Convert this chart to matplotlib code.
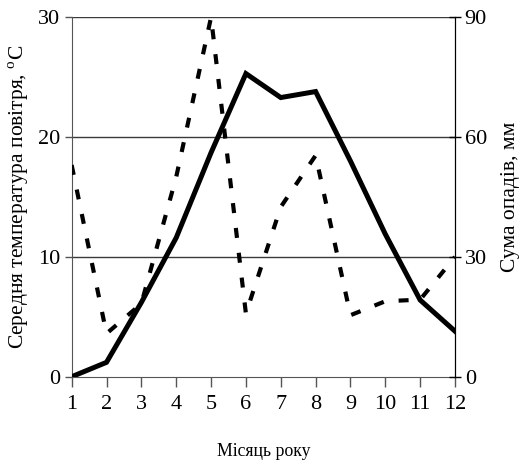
import matplotlib
matplotlib.use("Agg")
import matplotlib.pyplot as plt

plt.rcParams['font.family'] = ['Liberation Serif', 'DejaVu Serif']
plt.rcParams['mathtext.fontset'] = 'custom'
plt.rcParams['mathtext.rm'] = 'Liberation Serif'

months = [1, 2, 3, 4, 5, 6, 7, 8, 9, 10, 11, 12]
temperature = [0.0, 1.2, 6.2, 11.6, 18.7, 25.3, 23.3, 23.8, 18.0, 11.9, 6.4, 3.8]
precipitation = [53.0, 10.8, 18.3, 50.0, 90.0, 15.8, 42.5, 55.4, 15.4, 18.9, 19.3, 30.0]

fig = plt.figure(figsize=(5.23, 4.62), dpi=100)
ax = fig.add_axes([0.137, 0.1846, 0.733, 0.778])
ax2 = ax.twinx()

for yv in [10, 20, 30]:
    ax.axhline(yv, color='#3a3a3a', lw=1.0, zorder=0)

ax.plot(months, temperature, color='black', lw=3.6, solid_joinstyle='miter', zorder=3)
ax2.plot(months, precipitation, color='black', lw=3.0, dashes=(2.4, 3.6),
         dash_capstyle='butt', zorder=3)

ax.set_xlim(1, 12)
ax.set_ylim(0, 30)
ax2.set_ylim(0, 90)
ax.set_xticks(months)
ax.set_yticks([0, 10, 20, 30])
ax2.set_yticks([0, 30, 60, 90])

fs = 16
ax.tick_params(axis='x', direction='out', length=7, width=1, color='#555555', labelsize=fs, pad=6)
ax.tick_params(axis='y', direction='out', length=5, width=1, color='#555555', labelsize=fs, pad=3)
ax2.tick_params(axis='y', direction='inout', length=8, width=1, color='black', labelsize=fs, pad=3)

for a in (ax, ax2):
    a.spines['top'].set_visible(False)
    a.spines['left'].set_color('#555555')
    a.spines['bottom'].set_color('#555555')
    a.spines['right'].set_color('black')
    a.patch.set_visible(False)
ax2.spines['left'].set_visible(False)
ax2.spines['bottom'].set_visible(False)

ax.set_ylabel('Середня температура повітря, $^\\mathregular{o}$C', fontsize=15.5, labelpad=5)
ax2.set_ylabel('Сума опадів, мм', fontsize=15.5, labelpad=10)
ax.set_xlabel('Місяць року', fontsize=12.8, labelpad=21)

fig.savefig('out.png', dpi=100)
